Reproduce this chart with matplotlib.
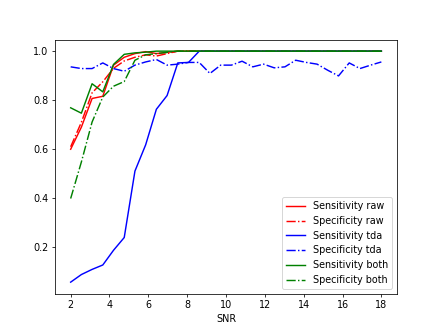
import numpy as np
import matplotlib
matplotlib.use('Agg')
import matplotlib.pyplot as plt

# SNR grid
snr = np.linspace(2, 18, 30)

# raw
sens_raw = [0.60, 0.69, 0.807, 0.816, 0.943, 0.975, 0.99, 0.998, 0.99, 0.995] + [1.0] * 20
spec_raw = [0.61, 0.71, 0.83, 0.875, 0.93, 0.96, 0.975, 0.985, 0.98, 0.99] + [1.0] * 20

# tda
sens_tda = [0.058, 0.089, 0.110, 0.128, 0.188, 0.240, 0.511, 0.618, 0.763, 0.819,
            0.952, 0.954] + [1.0] * 18
spec_tda = [0.936, 0.929, 0.929, 0.952, 0.929, 0.918, 0.943, 0.956, 0.966, 0.943,
            0.947, 0.954, 0.954, 0.909, 0.943, 0.943, 0.959, 0.936, 0.947, 0.932,
            0.936, 0.963, 0.954, 0.947, 0.922, 0.899, 0.952, 0.929, 0.943, 0.956]

# both
sens_both = [0.769, 0.747, 0.867, 0.834, 0.946, 0.987, 0.993, 0.996] + [1.0] * 22
spec_both = [0.399, 0.548, 0.711, 0.813, 0.857, 0.876, 0.963, 0.985, 0.99, 0.995] + [1.0] * 20

plt.figure(figsize=(441 / 69, 330 / 69), dpi=69)
plt.plot(snr, sens_raw, 'r-', label='Sensitivity raw')
plt.plot(snr, spec_raw, 'r-.', label='Specificity raw')
plt.plot(snr, sens_tda, 'b-', label='Sensitivity tda')
plt.plot(snr, spec_tda, 'b-.', label='Specificity tda')
plt.plot(snr, sens_both, 'g-', label='Sensitivity both')
plt.plot(snr, spec_both, 'g-.', label='Specificity both')
plt.xticks([2, 4, 6, 8, 10, 12, 14, 16, 18])
plt.xlabel('SNR')
plt.legend(loc='lower right')
plt.savefig('out.png', dpi=69)
